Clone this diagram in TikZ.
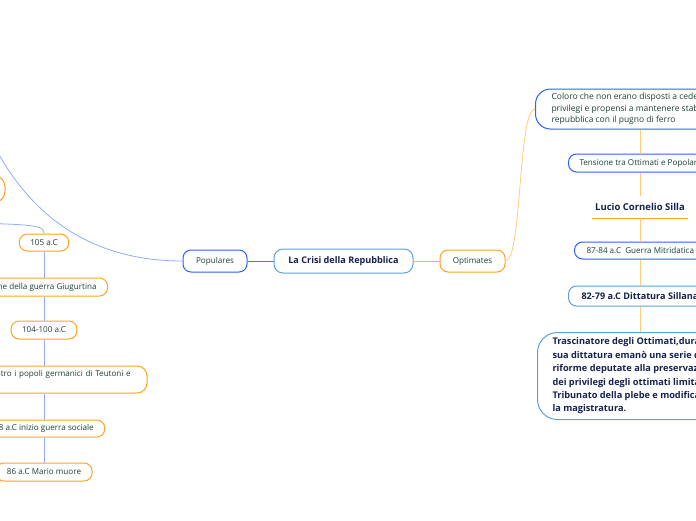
\documentclass[tikz,border=0pt]{standalone}
\usepackage{fontspec}
\setmainfont{Open Sans}
\usetikzlibrary{calc}
\definecolor{ramoblu}{HTML}{2B63F6}
\definecolor{ramoceleste}{HTML}{5BA3DC}
\definecolor{ramoarancio}{HTML}{FFA21F}
\definecolor{lineablu}{HTML}{8FAEF8}
\definecolor{lineaarancio}{HTML}{FFCB7A}
\definecolor{testoverde}{HTML}{1D3F38}
\definecolor{testonotte}{HTML}{15224F}

\begin{document}
\begin{tikzpicture}[x=1pt,y=-1pt,
    tema/.style={draw,line width=1pt,fill=white,rounded corners=8pt,text=testoverde,
      font=\fontsize{8.1}{11.5}\selectfont,inner xsep=11pt,inner ysep=0pt},
    ramo/.style={tema,draw=#1,minimum height=18pt},
    forte/.style={text=testonotte,font=\fontsize{9.1}{13.4}\selectfont\bfseries},
    filoblu/.style={draw=lineablu,line width=0.8pt},
    filoarancio/.style={draw=lineaarancio,line width=0.8pt}]
  \useasboundingbox (0,0) rectangle (696,520);
  \clip (0,0) rectangle (696,520);

  \node[ramo=ramoceleste,forte,minimum width=139pt,minimum height=24pt,rounded corners=9pt] (crisi) at (343.5,261) {La Crisi della Repubblica};
  \node[ramo=ramoblu,minimum width=64pt,minimum height=22pt] (populares) at (215,261) {Populares};
  \node[ramo=ramoarancio,minimum width=65pt,minimum height=22pt] (optimates) at (472.5,261) {Optimates};
  \draw[draw=ramoblu!85,line width=1pt] (crisi.west) -- (populares.east);
  \draw[draw=ramoarancio!80,line width=1pt] (crisi.east) -- (optimates.west);

  \node[ramo=ramoblu,anchor=west,align=left,minimum height=40pt,rounded corners=15pt,inner xsep=16pt,
    font=\fontsize{8.5}{11.5}\selectfont] (coloro) at (535,109)
    {Coloro che non erano disposti a cedere i\\privilegi e propensi a mantenere stabile la\\repubblica con il pugno di ferro};
  \node[ramo=ramoblu,anchor=west,minimum height=18pt] (tensione) at (568,163) {Tensione tra Ottimati e Popolari};
  \node[forte,inner sep=0pt,minimum width=96pt,minimum height=22pt,font=\fontsize{9.5}{12}\selectfont\bfseries] (silla) at (640,207) {Lucio Cornelio Silla};
  \draw[draw=ramoarancio,line width=1.2pt] (silla.south west) -- (silla.south east);
  \node[ramo=ramoblu,anchor=west,minimum height=17pt,inner xsep=12pt] (mitridatica) at (574,250.5) {87-84 a.C\ \ Guerra Mitridatica};
  \node[ramo=ramoceleste,forte,anchor=west,minimum height=20pt,inner xsep=13pt] (sillana) at (568,296) {82-79 a.C Dittatura Sillana};
  \node[ramo=ramoceleste,forte,anchor=north west,align=left,minimum height=87pt,rounded corners=20pt,inner xsep=15pt,
    font=\fontsize{9.2}{13.4}\selectfont\bfseries] (trascinatore) at (537,332)
    {Trascinatore degli Ottimati,durante la\\sua dittatura emanò una serie di\\riforme deputate alla preservazione\\dei privilegi degli ottimati limitando il\\Tribunato della plebe e modificando\\la magistratura.};

  \draw[filoarancio] (optimates.east) .. controls (522,261) and (518,109) .. (coloro.west);
  \coordinate (asse) at (640,0);
  \draw[filoarancio] (asse |- coloro.south) -- (asse |- tensione.north);
  \draw[filoarancio] (asse |- tensione.south) -- (asse |- silla.north);
  \draw[filoarancio] (asse |- silla.south) -- (asse |- mitridatica.north);
  \draw[filoarancio] (asse |- mitridatica.south) -- (asse |- sillana.north);
  \draw[filoarancio] (asse |- sillana.south) -- (asse |- trascinatore.north);

  \node[ramo=ramoarancio,minimum width=90pt,minimum height=28pt,rounded corners=12pt] (nascosto) at (-40,189) {};
  \node[ramo=ramoarancio,minimum height=17pt] (r105) at (44,242.5) {105 a.C};
  \node[ramo=ramoarancio] (giugurtina) at (44,287) {Fine della guerra Giugurtina};
  \node[ramo=ramoarancio] (r104) at (44,330) {104-100 a.C};
  \node[ramo=ramoarancio,align=left,text width=178pt,minimum height=27pt,rounded corners=10pt] (teutoni) at (47,379.5)
    {Guerra contro i popoli germanici di Teutoni e\\\phantom{C}};
  \node[ramo=ramoarancio,minimum height=17pt] (sociale) at (44,428.5) {88 a.C inizio guerra sociale};
  \node[ramo=ramoarancio] (mario) at (44,472) {86 a.C Mario muore};

  \coordinate (fuoriA) at (-20,115);
  \coordinate (fuoriB) at (-40,223);
  \coordinate (spina) at (44,0);
  \draw[filoblu] (populares.west) .. controls (90,261) and (20,215) .. (fuoriA);
  \draw[filoblu] (fuoriB) .. controls (38,224) and (44,226) .. (r105.north);
  \foreach \a/\b in {r105/giugurtina,giugurtina/r104,r104/teutoni,teutoni/sociale,sociale/mario}
    \draw[filoblu] (spina |- \a.south) -- (spina |- \b.north);
\end{tikzpicture}
\end{document}
